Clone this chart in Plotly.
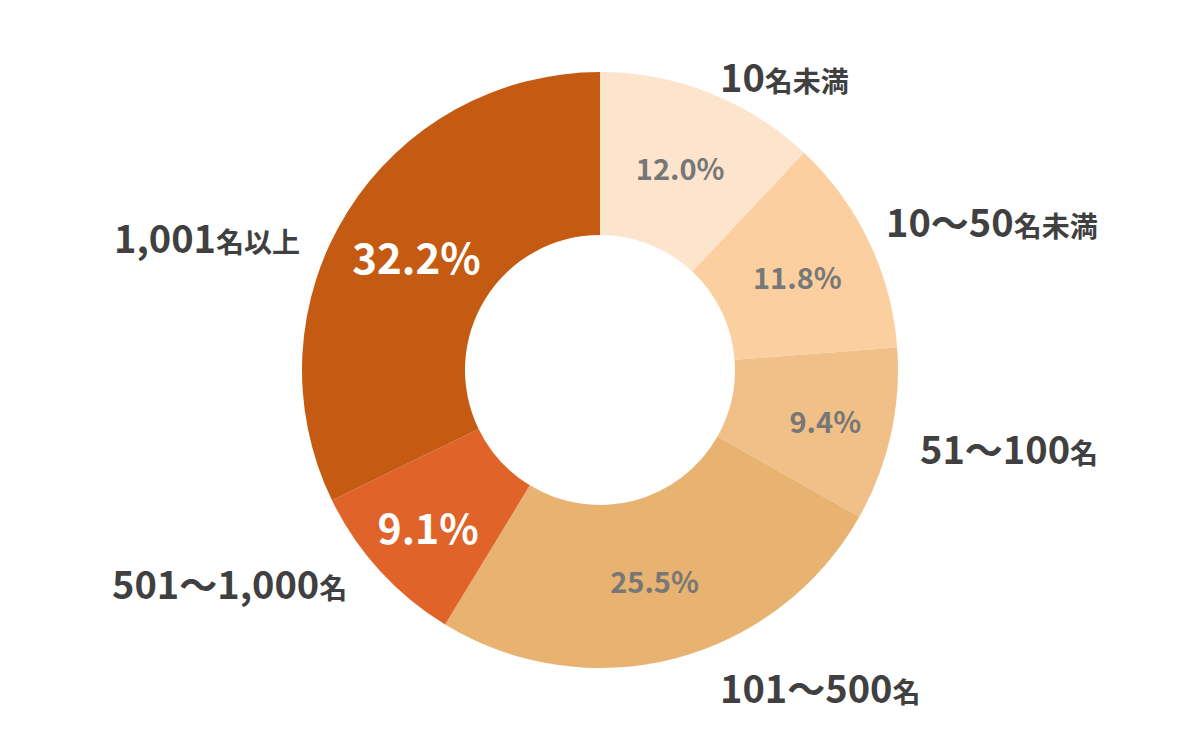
import re
import plotly.graph_objects as go

categories = ["10名未満", "10～50名未満", "51～100名", "101～500名", "501～1,000名", "1,001名以上"]
shares = [12.0, 11.8, 9.4, 25.5, 9.1, 32.2]
colors = ["#FDE5CD", "#FBCF9F", "#F0C088", "#E8B270", "#E06329", "#C55B12"]
text_colors = ["#777777", "#777777", "#777777", "#777777", "#FFFFFF", "#FFFFFF"]
text_sizes = [29, 29, 29, 29, 41, 42]

# outside labels: (x, y, anchor) in page pixels of the 1200x741 canvas
label_pos = [(718, 76, "left"), (1100, 221, "right"), (1100, 447, "right"),
             (718, 686, "left"), (110, 582, "left"), (112, 236, "left")]

W, H = 1200, 741
OFF = 8  # body margin of the html page


def label_html(s):
    # numbers big, kanji a bit smaller
    parts = re.findall(r"[0-9,～]+|[^0-9,～]+", s)
    out = []
    for p in parts:
        size = 38 if re.match(r"[0-9,～]", p) else 28
        out.append(f"<span style='font-size:{size}px'>{p}</span>")
    return "".join(out)


fig = go.Figure()
fig.add_trace(go.Pie(
    labels=categories,
    values=shares,
    sort=False,
    direction="clockwise",
    rotation=0,
    hole=0.453,
    marker=dict(colors=colors, line=dict(width=0)),
    texttemplate="%{value:.1f}%",
    textposition="inside",
    insidetextorientation="horizontal",
    textfont=dict(color=text_colors, size=text_sizes,
                  family="Noto Sans CJK JP", weight="bold"),
    domain=dict(x=[0, (1200 - 2 * OFF) / W],
                y=[1 - (668 - OFF) / H, 1 - (72 - OFF) / H]),
    showlegend=False,
    hoverinfo="label+value",
))

annotations = []
for cat, (px, py, anc) in zip(categories, label_pos):
    annotations.append(dict(
        x=(px - OFF) / W, y=1 - (py - OFF) / H, xref="paper", yref="paper",
        text=label_html(cat), showarrow=False,
        xanchor=anc, yanchor="middle",
        font=dict(family="Noto Sans CJK JP", size=38, color="#404040", weight="bold"),
    ))

fig.update_layout(
    width=W, height=H,
    margin=dict(l=0, r=0, t=0, b=0),
    paper_bgcolor="white",
    plot_bgcolor="white",
    annotations=annotations,
)

fig.write_html("out.html")
